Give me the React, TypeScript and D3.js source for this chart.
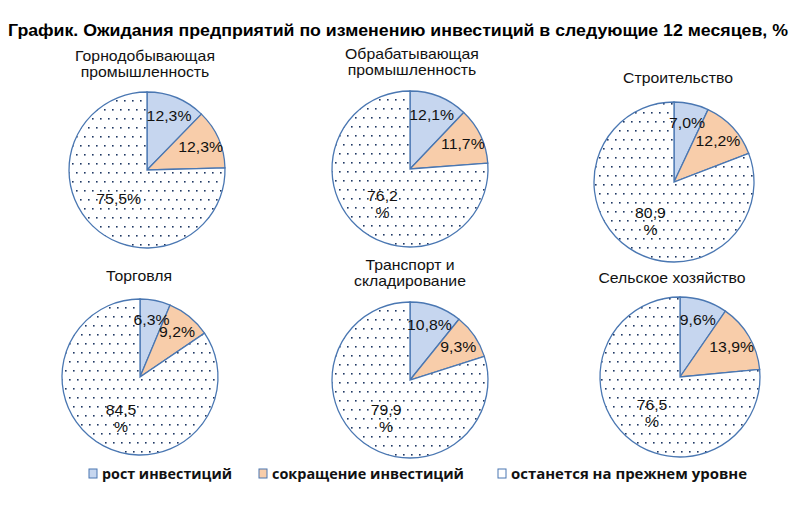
import React from 'react';
import * as d3 from 'd3';

const chartTitle = 'График. Ожидания предприятий по изменению инвестиций в следующие 12 месяцев, %';
const categories = [
  ['Горнодобывающая', 'промышленность'],
  ['Обрабатывающая', 'промышленность'],
  ['Строительство'],
  ['Торговля'],
  ['Транспорт и', 'складирование'],
  ['Сельское хозяйство'],
];
const seriesNames = ['рост инвестиций', 'сокращение инвестиций', 'останется на прежнем уровне'];
const growth = [12.3, 12.1, 7.0, 6.3, 10.8, 9.6];
const decline = [12.3, 11.7, 12.2, 9.2, 9.3, 13.9];
const unchanged = [75.5, 76.2, 80.9, 84.5, 79.9, 76.5];
const wrapBigLabel = [false, true, true, true, true, true];

// layout (positions / sizes)
const layout = [
  { cx: 147, cy: 170, r: 78, tx: 145, ty: 61 },
  { cx: 410, cy: 169, r: 78, tx: 412, ty: 58.5 },
  { cx: 674, cy: 182, r: 80, tx: 678, ty: 83 },
  { cx: 140, cy: 377, r: 78, tx: 139, ty: 281 },
  { cx: 410, cy: 380, r: 78, tx: 410, ty: 270 },
  { cx: 680, cy: 377, r: 80, tx: 672, ty: 283 },
];
const fills = ['#c6d6ef', '#f8cdaa', 'url(#dots)'];
const legendFills = ['#c6d6ef', '#f8cdaa', '#ffffff'];
const stroke = '#4a77b2';
const legendX = [89, 259, 498];
const legendTextW = [130, 192, 236];
const SX = 1.13;

const fmt = (v: number) => v.toFixed(1).replace('.', ',');

function SText({ x, y, children, size = 14 }: { x: number; y: number; children: React.ReactNode; size?: number }) {
  return (
    <text transform={`translate(${x},${y}) scale(${SX},1)`} textAnchor="middle" fontSize={size} fill="#111">
      {children}
    </text>
  );
}

export default function App() {
  const pie = d3.pie<number>().sort(null).value((d) => d);
  return (
    <svg width={800} height={506} style={{ position: 'absolute', left: 0, top: 0, background: '#fff' }}
      fontFamily="'Liberation Sans', Arial, sans-serif">
      <defs>
        <pattern id="dots" width={8} height={18} patternUnits="userSpaceOnUse">
          <rect width={8} height={18} fill="#fff" />
          <rect x={1} y={2} width={1.6} height={1.6} fill="#1f3864" />
          <rect x={5} y={11} width={1.6} height={1.6} fill="#1f3864" />
        </pattern>
      </defs>
      <rect width={800} height={506} fill="#fff" />
      <text x={8} y={36} fontSize={16} fontWeight="bold" textLength={780} lengthAdjust="spacingAndGlyphs" fill="#000">
        {chartTitle}
      </text>
      {categories.map((cat, i) => {
        const L = layout[i];
        const vals = [growth[i], decline[i], unchanged[i]];
        const arcs = pie(vals);
        const arc = d3.arc<d3.PieArcDatum<number>>().innerRadius(0).outerRadius(L.r);
        return (
          <g key={i}>
            {cat.map((line, j) => (
              <SText key={j} x={L.tx} y={L.ty + j * 16}>{line}</SText>
            ))}
            <g transform={`translate(${L.cx},${L.cy})`}>
              {arcs.map((a, k) => (
                <path key={k} d={arc(a) || ''} fill={fills[k]} stroke={stroke} strokeWidth={1.3} />
              ))}
              {arcs.map((a, k) => {
                const mid = (a.startAngle + a.endAngle) / 2;
                const rr = k === 2 ? 0.52 * L.r : 0.75 * L.r;
                const x = Math.sin(mid) * rr;
                const y = -Math.cos(mid) * rr;
                const label = fmt(a.data);
                if (k === 2 && wrapBigLabel[i]) {
                  return (
                    <g key={`l${k}`}>
                      <SText x={x} y={y + 2}>{label}</SText>
                      <SText x={x} y={y + 19}>%</SText>
                    </g>
                  );
                }
                return (
                  <SText key={`l${k}`} x={x} y={y + 5}>{label + '%'}</SText>
                );
              })}
            </g>
          </g>
        );
      })}
      {seriesNames.map((s, k) => (
        <g key={k}>
          <rect x={legendX[k]} y={469} width={8} height={9} fill={legendFills[k]} stroke={stroke} strokeWidth={1} />
          <text x={legendX[k] + 13} y={479} fontSize={14} fontWeight="bold" fontFamily="'Open Sans', sans-serif"
            textLength={legendTextW[k]} lengthAdjust="spacingAndGlyphs" fill="#111">
            {s}
          </text>
        </g>
      ))}
    </svg>
  );
}
